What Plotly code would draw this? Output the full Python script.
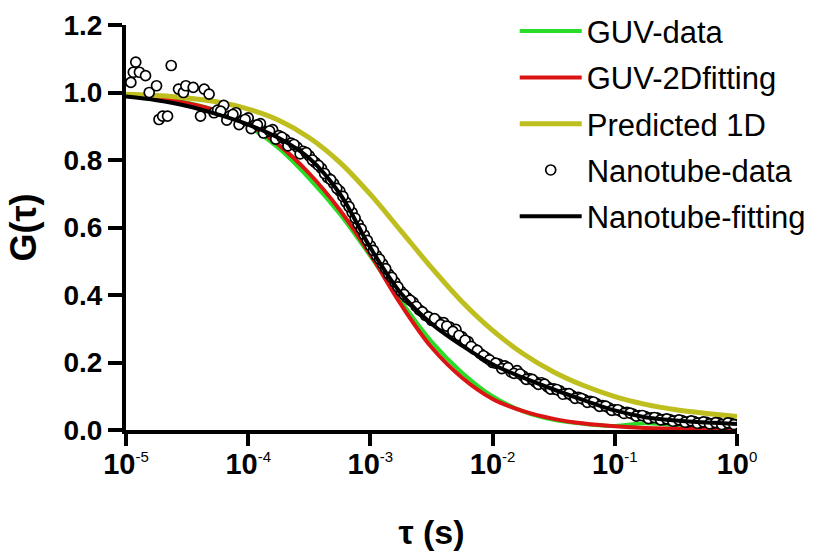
import plotly.graph_objects as go

# ---------------- data ----------------
curve_tau = [1.0e-5, 1.778e-5, 3.162e-5, 5.623e-5,
             1.0e-4, 1.778e-4, 3.162e-4, 5.623e-4,
             1.0e-3, 1.778e-3, 3.162e-3, 5.623e-3,
             1.0e-2, 1.778e-2, 3.162e-2, 5.623e-2,
             1.0e-1, 1.778e-1, 3.162e-1, 5.623e-1, 1.0]

guv_data = [0.995, 0.985, 0.970, 0.945, 0.900, 0.835, 0.745, 0.640,
            0.515, 0.382, 0.262, 0.170, 0.100, 0.055, 0.030, 0.018,
            0.012, 0.020, 0.015, 0.020, 0.022]

guv_fit = [0.990, 0.982, 0.968, 0.945, 0.905, 0.845, 0.760, 0.652,
           0.520, 0.372, 0.245, 0.155, 0.092, 0.056, 0.033, 0.019,
           0.011, 0.006, 0.004, 0.002, 0.001]

pred_1d = [0.995, 0.991, 0.984, 0.972, 0.951, 0.918, 0.866, 0.793,
           0.698, 0.590, 0.481, 0.380, 0.295, 0.226, 0.172, 0.131,
           0.099, 0.076, 0.060, 0.049, 0.040]

nano_fit = [0.988, 0.977, 0.960, 0.935, 0.905, 0.865, 0.805, 0.700,
            0.540, 0.405, 0.315, 0.250, 0.195, 0.155, 0.120, 0.088,
            0.058, 0.038, 0.028, 0.022, 0.018]

# nanotube correlation points, first set
nano_tau_a = [1.096e-5, 1.148e-5, 1.202e-5, 1.288e-5, 1.445e-5, 1.549e-5, 1.778e-5,
              1.862e-5, 1.995e-5, 2.188e-5, 2.344e-5, 2.692e-5, 2.951e-5, 3.090e-5,
              3.548e-5, 4.074e-5, 4.365e-5, 4.786e-5, 5.248e-5,
              5.623e-5, 6.310e-5, 7.079e-5, 7.943e-5, 8.913e-5,
              1.000e-4, 1.122e-4, 1.259e-4, 1.413e-4, 1.585e-4, 1.778e-4, 1.995e-4,
              2.239e-4, 2.512e-4, 2.818e-4, 3.162e-4, 3.548e-4, 3.981e-4, 4.467e-4,
              5.012e-4, 5.623e-4, 6.310e-4, 7.079e-4, 7.943e-4, 8.913e-4,
              1.000e-3, 1.122e-3, 1.259e-3, 1.413e-3, 1.585e-3, 1.778e-3, 1.995e-3,
              2.239e-3, 2.512e-3, 2.818e-3, 3.162e-3, 3.548e-3, 3.981e-3, 4.467e-3,
              5.012e-3, 5.623e-3, 6.310e-3, 7.079e-3, 7.943e-3, 8.913e-3,
              1.000e-2, 1.122e-2, 1.259e-2, 1.413e-2, 1.585e-2, 1.778e-2, 1.995e-2,
              2.239e-2, 2.512e-2, 2.818e-2, 3.162e-2, 3.548e-2, 3.981e-2, 4.467e-2,
              5.012e-2, 5.623e-2, 6.310e-2, 7.079e-2, 7.943e-2, 8.913e-2,
              1.000e-1, 1.122e-1, 1.259e-1, 1.413e-1, 1.585e-1, 1.778e-1, 1.995e-1,
              2.239e-1, 2.512e-1, 2.818e-1, 3.162e-1, 3.548e-1, 3.981e-1, 4.467e-1,
              5.012e-1, 5.623e-1, 6.310e-1, 7.079e-1, 7.943e-1, 8.913e-1, 1.0]

nano_data_a = [1.03, 1.06, 1.09, 1.06, 1.05, 1.00, 1.02,
               0.92, 0.93, 0.93, 1.08, 1.01, 1.00, 1.02,
               1.015, 0.93, 1.01, 0.995, 0.94,
               0.948, 0.962, 0.931, 0.940, 0.915,
               0.925, 0.902, 0.908, 0.884, 0.890, 0.872, 0.862,
               0.850, 0.838, 0.826, 0.812, 0.792, 0.775, 0.748,
               0.730, 0.708, 0.675, 0.645, 0.610, 0.578,
               0.546, 0.517, 0.492, 0.462, 0.438, 0.411, 0.392,
               0.378, 0.356, 0.340, 0.325, 0.322, 0.318, 0.305,
               0.298, 0.276, 0.262, 0.240, 0.226, 0.214,
               0.200, 0.195, 0.190, 0.172, 0.176, 0.160, 0.152,
               0.143, 0.140, 0.128, 0.122, 0.116, 0.108, 0.102,
               0.097, 0.090, 0.085, 0.078, 0.072, 0.066,
               0.060, 0.055, 0.052, 0.047, 0.043, 0.040, 0.036,
               0.035, 0.031, 0.031, 0.027, 0.028, 0.024, 0.025,
               0.021, 0.023, 0.019, 0.021, 0.017, 0.020, 0.015]

# nanotube correlation points, second (interleaved) set
nano_tau_b = [5.957e-5, 6.683e-5, 7.499e-5, 8.414e-5, 9.441e-5,
              1.059e-4, 1.189e-4, 1.334e-4, 1.496e-4, 1.679e-4, 1.884e-4, 2.113e-4,
              2.371e-4, 2.661e-4, 2.985e-4, 3.350e-4, 3.758e-4, 4.217e-4, 4.732e-4,
              5.309e-4, 5.957e-4, 6.683e-4, 7.499e-4, 8.414e-4, 9.441e-4,
              1.059e-3, 1.189e-3, 1.334e-3, 1.496e-3, 1.679e-3, 1.884e-3, 2.113e-3,
              2.371e-3, 2.661e-3, 2.985e-3, 3.350e-3, 3.758e-3, 4.217e-3, 4.732e-3,
              5.309e-3, 5.957e-3, 6.683e-3, 7.499e-3, 8.414e-3, 9.441e-3,
              1.059e-2, 1.189e-2, 1.334e-2, 1.496e-2, 1.679e-2, 1.884e-2, 2.113e-2,
              2.371e-2, 2.661e-2, 2.985e-2, 3.350e-2, 3.758e-2, 4.217e-2, 4.732e-2,
              5.309e-2, 5.957e-2, 6.683e-2, 7.499e-2, 8.414e-2, 9.441e-2,
              1.059e-1, 1.189e-1, 1.334e-1, 1.496e-1, 1.679e-1, 1.884e-1, 2.113e-1,
              2.371e-1, 2.661e-1, 2.985e-1, 3.350e-1, 3.758e-1, 4.217e-1, 4.732e-1,
              5.309e-1, 5.957e-1, 6.683e-1, 7.499e-1, 8.414e-1, 9.441e-1]

nano_data_b = [0.945, 0.918, 0.935, 0.905, 0.920,
               0.893, 0.904, 0.880, 0.886, 0.862, 0.868, 0.842,
               0.846, 0.818, 0.822, 0.800, 0.784, 0.760, 0.742,
               0.716, 0.692, 0.662, 0.628, 0.596, 0.562,
               0.532, 0.506, 0.478, 0.452, 0.424, 0.402, 0.385,
               0.366, 0.350, 0.335, 0.330, 0.312, 0.308, 0.292,
               0.280, 0.266, 0.248, 0.236, 0.220, 0.208,
               0.198, 0.182, 0.185, 0.168, 0.166, 0.150, 0.150,
               0.135, 0.136, 0.121, 0.120, 0.106, 0.108, 0.094,
               0.094, 0.082, 0.083, 0.070, 0.071, 0.058,
               0.060, 0.049, 0.050, 0.041, 0.043, 0.034, 0.037,
               0.030, 0.033, 0.026, 0.030, 0.023, 0.027, 0.020,
               0.024, 0.018, 0.022, 0.016, 0.021, 0.016]

x_tickvals = [1e-5, 1e-4, 1e-3, 1e-2, 1e-1, 1.0]
x_exponents = ["-5", "-4", "-3", "-2", "-1", "0"]
y_tickvals = [0.0, 0.2, 0.4, 0.6, 0.8, 1.0, 1.2]

series_names = ["GUV-data", "GUV-2Dfitting", "Predicted 1D", "Nanotube-data", "Nanotube-fitting"]

# ---------------- figure ----------------
GREEN = "rgb(40,220,40)"
RED = "rgb(220,20,20)"
OLIVE = "rgb(190,190,30)"

nano_tau = nano_tau_a + nano_tau_b
nano_data = nano_data_a + nano_data_b

fig = go.Figure()
fig.add_trace(go.Scatter(x=curve_tau, y=guv_data, mode="lines", name=series_names[0],
                         line=dict(color=GREEN, width=4, shape="spline"), legendgroup="a"))
fig.add_trace(go.Scatter(x=curve_tau, y=guv_fit, mode="lines", name=series_names[1],
                         line=dict(color=RED, width=4, shape="spline"), legendgroup="b"))
fig.add_trace(go.Scatter(x=curve_tau, y=pred_1d, mode="lines", name=series_names[2],
                         line=dict(color=OLIVE, width=5, shape="spline"), legendgroup="c"))
fig.add_trace(go.Scatter(x=nano_tau, y=nano_data, mode="markers", name=series_names[3],
                         marker=dict(symbol="circle", size=10, color="white",
                                     line=dict(color="black", width=1.7)), legendgroup="d"))
fig.add_trace(go.Scatter(x=curve_tau, y=nano_fit, mode="lines", name=series_names[4],
                         line=dict(color="black", width=4, shape="spline"), legendgroup="e"))

FONT = "Liberation Sans, Arial, sans-serif"
ticktext = ["10<sup><span style='font-size:15px;font-weight:normal'>%s</span></sup>" % e
            for e in x_exponents]

fig.update_layout(
    width=817, height=554,
    margin=dict(l=126, r=80, t=25, b=124, autoexpand=False),
    paper_bgcolor="white", plot_bgcolor="white",
    font=dict(family=FONT, color="black"),
    showlegend=True,
    legend=dict(xref="container", yref="container",
                x=0.630, y=0.992, xanchor="left", yanchor="top",
                font=dict(family=FONT, size=31, color="black"),
                bgcolor="rgba(0,0,0,0)", itemwidth=62, tracegroupgap=3,
                itemclick=False),
    xaxis=dict(type="log", range=[-5, 0], tickmode="array",
               tickvals=x_tickvals, ticktext=ticktext, automargin=False,
               showline=True, linewidth=4, linecolor="black",
               ticks="outside", ticklen=12, tickwidth=4, tickcolor="black",
               showgrid=False, zeroline=False, ticklabelstandoff=-7,
               tickfont=dict(family=FONT, size=29, weight="bold"),
               title=dict(text="<b>τ (s)</b>", font=dict(family=FONT, size=34), standoff=42)),
    yaxis=dict(range=[0, 1.2], tickmode="array", tickvals=y_tickvals, tickformat=".1f",
               showline=True, linewidth=4, linecolor="black", automargin=False,
               ticks="outside", ticklen=14, tickwidth=4, tickcolor="black",
               showgrid=False, zeroline=False,
               tickfont=dict(family=FONT, size=28, weight="bold"),
               title=dict(text="<b>G(τ)</b>", font=dict(family=FONT, size=36), standoff=17)),
)

fig.write_html("out.html")
